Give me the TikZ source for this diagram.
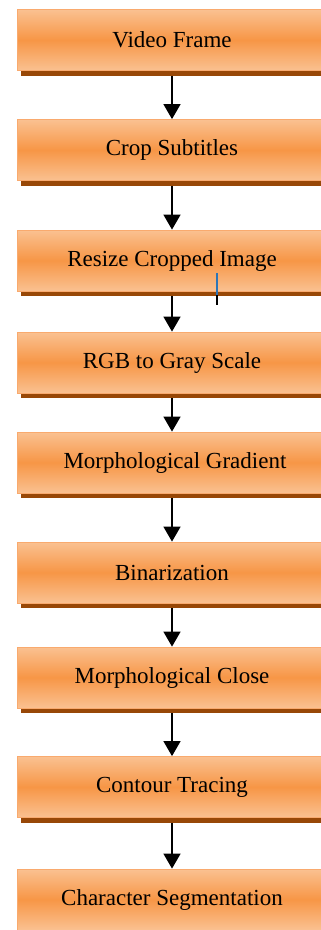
\documentclass[tikz,border=0pt]{standalone}
\usepackage{fontspec}
\setmainfont{Liberation Serif}
\usetikzlibrary{arrows.meta,shadows}
\definecolor{tangerine}{RGB}{247, 150, 70}
\definecolor{apricot}{RGB}{250, 193, 145}
\definecolor{peach}{RGB}{249, 170, 110}
\definecolor{rust}{RGB}{152, 72, 7}
\definecolor{caret}{RGB}{46, 117, 182}

\tikzset{
    stage/.style={rectangle, minimum width=310pt, minimum height=61pt, inner sep=0pt,
                  draw=peach, line width=0.8pt,
                  top color=apricot, bottom color=apricot, middle color=tangerine,
                  drop shadow={shadow xshift=4pt, shadow yshift=-5pt, fill=rust, opacity=1},
                  font=\fontsize{23}{25}\selectfont, text=black},
    flow/.style={-{Triangle[width=17pt,length=15pt]}, line width=1.5pt, shorten <=5pt}
}

\begin{document}
\begin{tikzpicture}[x=1pt,y=1pt]
            \useasboundingbox (0,0) rectangle (321,-930);
            \clip             (0,0) rectangle (321,-930);
            \node[stage] (frame)   at (172, -40.0) {Video Frame};
            \node[stage] (crop)    at (172,-150.0) {Crop Subtitles};
            \node[stage] (resize)  at (172,-260.5) {Resize Cropped Image};
            \node[stage] (gray)    at (172,-362.5) {RGB to Gray Scale};
            \node[stage] (grad)    at (172,-462.5) {\hspace{6pt}Morphological Gradient};
            \node[stage] (binary)  at (172,-572.5) {Binarization};
            \node[stage] (close)   at (172,-677.5) {Morphological Close};
            \node[stage] (contour) at (172,-787.0) {Contour Tracing};
            \node[stage] (segment) at (172,-899.5) {Character Segmentation};
            \draw[flow] (frame)   -- (crop);
            \draw[flow] (crop)    -- (resize);
            \draw[flow] (resize)  -- (gray);
            \draw[flow] (gray)    -- (grad);
            \draw[flow] (grad)    -- (binary);
            \draw[flow] (binary)  -- (close);
            \draw[flow] (close)   -- (contour);
            \draw[flow] (contour) -- (segment);
            \draw[caret, line width=2pt] (217,-273) -- (217,-295);
            \draw[black, line width=2pt] (217,-295) -- (217,-305);
\end{tikzpicture}
\end{document}
